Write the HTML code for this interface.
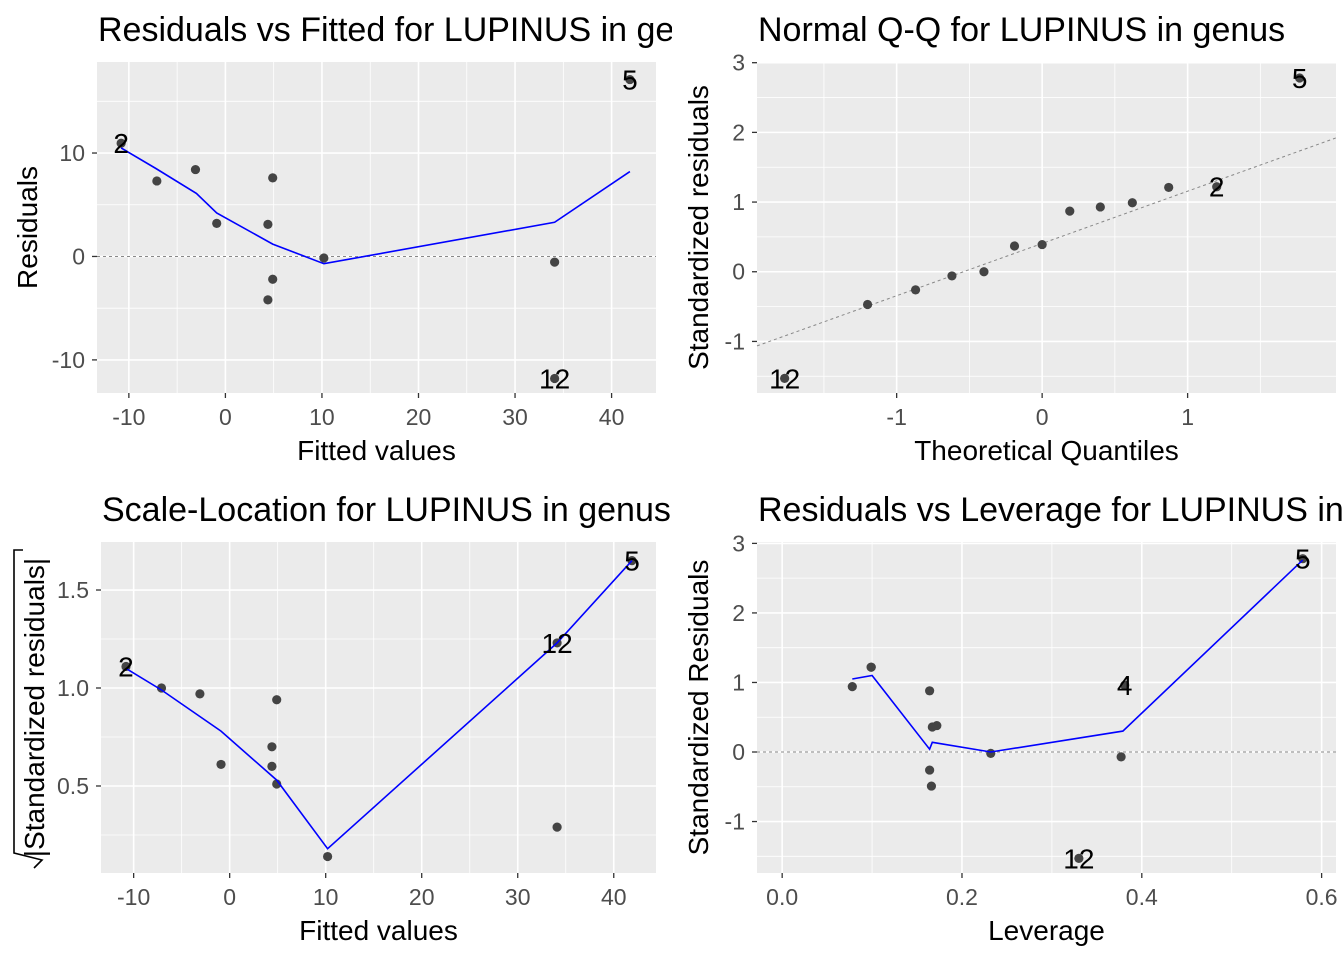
<!DOCTYPE html>
<html><head><meta charset="utf-8"><style>
html,body{margin:0;padding:0;background:#fff;}
svg{display:block;font-family:"Liberation Sans",Arial,sans-serif;}
</style></head><body>
<svg id="chart" width="1344" height="960" viewBox="0 0 1344 960" xmlns="http://www.w3.org/2000/svg">
<defs>
<clipPath id="cl1"><rect x="0" y="0" width="672" height="480"/></clipPath>
<clipPath id="cl2"><rect x="672" y="0" width="672" height="480"/></clipPath>
<clipPath id="cl3"><rect x="0" y="480" width="672" height="480"/></clipPath>
<clipPath id="cl4"><rect x="672" y="480" width="672" height="480"/></clipPath>
</defs>
</svg>
<script>
// ---- Panel 1: Residuals vs Fitted ----
const p1Fitted = [-10.8, -7.1, -3.1, -0.9, 4.4, 4.9, 4.9, 4.4, 10.2, 34.1, 34.1, 41.9];
const p1Resid  = [10.95, 7.3, 8.4, 3.2, 3.1, 7.6, -2.2, -4.2, -0.15, -0.55, -11.8, 17.1];
const p1Labels = ["2", "", "", "", "", "", "", "", "", "", "12", "5"];
const p1SmoothX = [-10.8, -7.2, -3.0, -0.9, 4.9, 10.2, 34.1, 41.9];
const p1SmoothY = [10.5, 8.5, 6.1, 4.2, 1.2, -0.7, 3.3, 8.2];
const p1XTicks = [-10, 0, 10, 20, 30, 40];
const p1YTicks = [-10, 0, 10];
// ---- Panel 2: Normal Q-Q ----
const p2Theo = [-1.77, -1.20, -0.87, -0.62, -0.40, -0.19, 0, 0.19, 0.40, 0.62, 0.87, 1.20, 1.77];
const p2Std  = [-1.53, -0.47, -0.26, -0.06, 0.0, 0.37, 0.39, 0.87, 0.93, 0.99, 1.21, 1.22, 2.78];
const p2Labels = ["12", "", "", "", "", "", "", "", "", "", "", "2", "5"];
const p2LineIntercept = [0.406];
const p2LineSlope = [0.75];
const p2XTicks = [-1, 0, 1];
const p2YTicks = [-1, 0, 1, 2, 3];
// ---- Panel 3: Scale-Location ----
const p3Fitted = [-10.8, -7.1, -3.1, -0.9, 4.4, 4.9, 4.9, 4.4, 10.2, 34.1, 34.1, 41.9];
const p3Sqrt   = [1.11, 1.0, 0.97, 0.61, 0.70, 0.94, 0.51, 0.60, 0.14, 0.29, 1.23, 1.65];
const p3Labels = ["2", "", "", "", "", "", "", "", "", "", "12", "5"];
const p3SmoothX = [-10.8, -7.1, -0.9, 4.9, 10.2, 34.1, 41.9];
const p3SmoothY = [1.10, 0.99, 0.78, 0.53, 0.18, 1.23, 1.65];
const p3XTicks = [-10, 0, 10, 20, 30, 40];
const p3YTicks = [0.5, 1.0, 1.5];
// ---- Panel 4: Residuals vs Leverage ----
const p4Lev = [0.078, 0.099, 0.099, 0.164, 0.167, 0.172, 0.164, 0.166, 0.232, 0.377, 0.381, 0.33, 0.579];
const p4Std = [0.94, 1.22, 1.22, 0.88, 0.36, 0.38, -0.26, -0.49, -0.02, -0.07, 0.96, -1.53, 2.78];
const p4Labels = ["", "", "", "", "", "", "", "", "", "", "4", "12", "5"];
const p4SmoothX = [0.078, 0.100, 0.164, 0.167, 0.232, 0.379, 0.579];
const p4SmoothY = [1.05, 1.10, 0.04, 0.14, 0.0, 0.30, 2.76];
const p4XTicks = [0.0, 0.2, 0.4, 0.6];
const p4YTicks = [-1, 0, 1, 2, 3];

const NS = "http://www.w3.org/2000/svg";
const svg = document.getElementById("chart");
function mk(tag, attrs, parent) {
  const e = document.createElementNS(NS, tag);
  for (const k in attrs) e.setAttribute(k, attrs[k]);
  (parent || svg).appendChild(e);
  return e;
}
function fmt(v, d) { return d ? v.toFixed(d) : String(v); }

function panel(o) {
  const g = mk("g", {"clip-path": "url(#" + o.clip + ")"});
  
  
  const sx = v => o.x0 + (v - o.xmin) / (o.xmax - o.xmin) * (o.x1 - o.x0);
  const sy = v => o.y1 - (v - o.ymin) / (o.ymax - o.ymin) * (o.y1 - o.y0);
  const bg = mk("rect", {x: o.x0, y: o.y0, width: o.x1 - o.x0, height: o.y1 - o.y0, fill: "#EBEBEB"}, g);
  
  
  const xt = o.xticks, yt = o.yticks;
  const xs = xt[1] - xt[0], ys = yt[1] - yt[0];
  for (let v = xt[0] - xs / 2; v <= o.xmax; v += xs) if (v >= o.xmin) mk("line", {x1: sx(v), x2: sx(v), y1: o.y0, y2: o.y1, stroke: "#fff", "stroke-width": 0.8}, g);
  for (let v = yt[0] - ys / 2; v <= o.ymax; v += ys) if (v >= o.ymin) mk("line", {y1: sy(v), y2: sy(v), x1: o.x0, x2: o.x1, stroke: "#fff", "stroke-width": 0.8}, g);
  xt.forEach(v => {
    mk("line", {x1: sx(v), x2: sx(v), y1: o.y0, y2: o.y1, stroke: "#fff", "stroke-width": 1.6}, g);
    mk("line", {x1: sx(v), x2: sx(v), y1: o.y1, y2: o.y1 + 5, stroke: "#333", "stroke-width": 1.3}, g);
    const t = mk("text", {x: sx(v), y: o.y1 + 32, "text-anchor": "middle", "font-size": 23, fill: "#4D4D4D"}, g);
    t.textContent = fmt(v, o.xdec);
    
    
  });
  yt.forEach(v => {
    mk("line", {y1: sy(v), y2: sy(v), x1: o.x0, x2: o.x1, stroke: "#fff", "stroke-width": 1.6}, g);
    mk("line", {y1: sy(v), y2: sy(v), x1: o.x0 - 5, x2: o.x0, stroke: "#333", "stroke-width": 1.3}, g);
    const t = mk("text", {x: o.x0 - 12, y: sy(v) + 8, "text-anchor": "end", "font-size": 23, fill: "#4D4D4D"}, g);
    t.textContent = fmt(v, o.ydec);
    
    
  });
  if (o.hline !== undefined) {
    const hl = mk("line", {x1: o.x0, x2: o.x1, y1: sy(o.hline), y2: sy(o.hline), stroke: "#888", "stroke-width": 1, "stroke-dasharray": "3,3"}, g);
    
    
  }
  if (o.abline) {
    const [a, b] = o.abline;
    const l = mk("line", {x1: sx(o.xmin), y1: sy(a + b * o.xmin), x2: sx(o.xmax), y2: sy(a + b * o.xmax), stroke: "#888", "stroke-width": 1, "stroke-dasharray": "3,3"}, g);
    
    
  }
  const pc = mk("g", {}, g);
  
  
  o.px.forEach((v, i) => {
    const c = mk("circle", {cx: sx(v), cy: sy(o.py[i]), r: 4.6, fill: "#444"}, pc);
    
    
  });
  if (o.sx) {
    const d = o.sx.map((v, i) => (i ? "L" : "M") + sx(v).toFixed(1) + "," + sy(o.sy[i]).toFixed(1)).join(" ");
    const p = mk("path", {d: d, fill: "none", stroke: "#0000FF", "stroke-width": 1.6}, g);
    
    
  }
  o.px.forEach((v, i) => {
    if (!o.labels[i]) return;
    const t = mk("text", {x: sx(v), y: sy(o.py[i]) + 10, "text-anchor": "middle", "font-size": 28, fill: "#000"}, g);
    t.textContent = o.labels[i];
    
    
  });
  const ti = mk("text", {x: o.x0 + 1, y: o.y0 - 21, "font-size": 34, fill: "#000"}, g);
  ti.textContent = o.title;
  
  
  const xl = mk("text", {x: (o.x0 + o.x1) / 2, y: o.y1 + 67, "text-anchor": "middle", "font-size": 28, fill: "#000"}, g);
  xl.textContent = o.xlab;
  
  
  const cy = (o.y0 + o.y1) / 2;
  const yl = mk("text", {x: o.ylx, y: cy, "text-anchor": "middle", "font-size": 28, fill: "#000", transform: "rotate(-90 " + o.ylx + " " + cy + ")"}, g);
  yl.textContent = o.ylab;
  
  
  return g;
}

panel({name: "residuals-vs-fitted-panel", clip: "cl1", x0: 97, x1: 656, y0: 62, y1: 393, xmin: -13.3, xmax: 44.6, ymin: -13.2, ymax: 18.8,
  xticks: p1XTicks, yticks: p1YTicks, px: p1Fitted, py: p1Resid, labels: p1Labels, sx: p1SmoothX, sy: p1SmoothY, hline: 0,
  title: "Residuals vs Fitted for LUPINUS in genus", xlab: "Fitted values", ylab: "Residuals", ylx: 37});
panel({name: "normal-qq-panel", clip: "cl2", x0: 757, x1: 1336, y0: 62, y1: 393, xmin: -1.96, xmax: 2.02, ymin: -1.74, ymax: 3.01,
  xticks: p2XTicks, yticks: p2YTicks, px: p2Theo, py: p2Std, labels: p2Labels, abline: [p2LineIntercept[0], p2LineSlope[0]],
  title: "Normal Q-Q for LUPINUS in genus", xlab: "Theoretical Quantiles", ylab: "Standardized residuals", ylx: 708});
const g3 = panel({name: "scale-location-panel", clip: "cl3", x0: 101, x1: 656, y0: 542, y1: 873, xmin: -13.4, xmax: 44.4, ymin: 0.056, ymax: 1.745,
  xticks: p3XTicks, yticks: p3YTicks, px: p3Fitted, py: p3Sqrt, labels: p3Labels, sx: p3SmoothX, sy: p3SmoothY, xdec: 0, ydec: 1,
  title: "Scale-Location for LUPINUS in genus", xlab: "Fitted values", ylab: "|Standardized residuals|", ylx: 44});
const rad = mk("path", {d: "M23,550 L14,550 L14,853 L42,860 L34,868", fill: "none", stroke: "#000", "stroke-width": 1.6}, g3);


panel({name: "residuals-vs-leverage-panel", clip: "cl4", x0: 757, x1: 1336, y0: 542, y1: 873, xmin: -0.028, xmax: 0.616, ymin: -1.74, ymax: 3.02,
  xticks: p4XTicks, yticks: p4YTicks, px: p4Lev, py: p4Std, labels: p4Labels, sx: p4SmoothX, sy: p4SmoothY, hline: 0, xdec: 1,
  title: "Residuals vs Leverage for LUPINUS in genus", xlab: "Leverage", ylab: "Standardized Residuals", ylx: 708});
</script>
</body></html>
